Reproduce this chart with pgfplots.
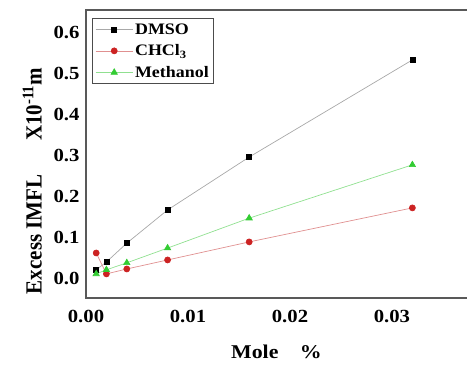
\documentclass[border=0pt]{standalone}
\usepackage{fontspec}
\setmainfont{Liberation Serif}
\newfontfamily\widefont{Liberation Serif}[FakeStretch=1.12]
\usepackage{graphicx}
\usepackage{pgfplots}
\pgfplotsset{compat=1.18}
\definecolor{dline}{HTML}{A8A8A8}
\definecolor{cline}{HTML}{E09090}
\definecolor{cmark}{HTML}{CC2222}
\definecolor{mline}{HTML}{90E090}
\definecolor{mmark}{HTML}{33CC33}
\begin{document}
\begin{tikzpicture}
\path[use as bounding box] (-86pt,-67pt) rectangle (381pt,298pt);
\begin{axis}[
  scale only axis, width=384pt, height=288pt,
  xmin=0, xmax=0.03765, ymin=-0.0488, ymax=0.6537,
  xtick={0,0.01,0.02,0.03}, ytick={0,0.1,0.2,0.3,0.4,0.5,0.6},
  scaled ticks=false,
  major tick length=0pt,
  axis line style={draw=black!65, line width=1.1pt},
  /pgf/number format/assume math mode=true,
  xticklabel style={font=\widefont\bfseries\fontsize{18.5}{18.5}\selectfont, /pgf/number format/fixed, /pgf/number format/fixed zerofill, /pgf/number format/precision=2, yshift=-9pt},
  yticklabel style={font=\widefont\bfseries\fontsize{18.5}{18.5}\selectfont, /pgf/number format/fixed, /pgf/number format/fixed zerofill, /pgf/number format/precision=1, xshift=-3pt},
  xlabel={Mole\hspace{1.1em}\%},
  ylabel={\scalebox{1}[1.1]{Excess IMFL\hspace{1.6em}X10\textsuperscript{-11}m}},
  xlabel style={font=\widefont\bfseries\fontsize{19.5}{19.5}\selectfont, at={(axis description cs:0.496,-0.1875)}, anchor=center},
  ylabel style={font=\bfseries\fontsize{21}{21}\selectfont, at={(axis description cs:-0.14,0.406)}, anchor=center, rotate=0},
  legend style={at={(axis description cs:0.0156,0.972)}, anchor=north west, draw=black!70, line width=0.8pt, font=\widefont\bfseries\fontsize{16}{16}\selectfont, row sep=5pt, inner sep=3pt},
  legend cell align=left,
  legend image code/.code={\draw[mark repeat=2,mark phase=2] plot coordinates {(0cm,0cm)(0.65cm,0cm)(1.3cm,0cm)};},
]
\addplot[color=dline, line width=0.7pt, mark=square*, mark size=2.5pt, mark options={draw=black, fill=black}] coordinates {
  (0.001,0.020) (0.002,0.039) (0.004,0.085) (0.008,0.166) (0.016,0.295) (0.032,0.532)};
\addlegendentry{DMSO}
\addplot[color=cline, line width=0.7pt, mark=*, mark size=3pt, mark options={draw=cmark, fill=cmark}] coordinates {
  (0.001,0.061) (0.002,0.010) (0.004,0.022) (0.008,0.044) (0.016,0.088) (0.032,0.171)};
\addlegendentry{CHCl\textsubscript{3}}
\addplot[color=mline, line width=0.7pt, mark=triangle*, mark size=3.6pt, mark options={draw=mmark, fill=mmark}] coordinates {
  (0.001,0.010) (0.002,0.020) (0.004,0.037) (0.008,0.073) (0.016,0.146) (0.032,0.276)};
\addlegendentry{Methanol}
\end{axis}
\end{tikzpicture}
\end{document}
